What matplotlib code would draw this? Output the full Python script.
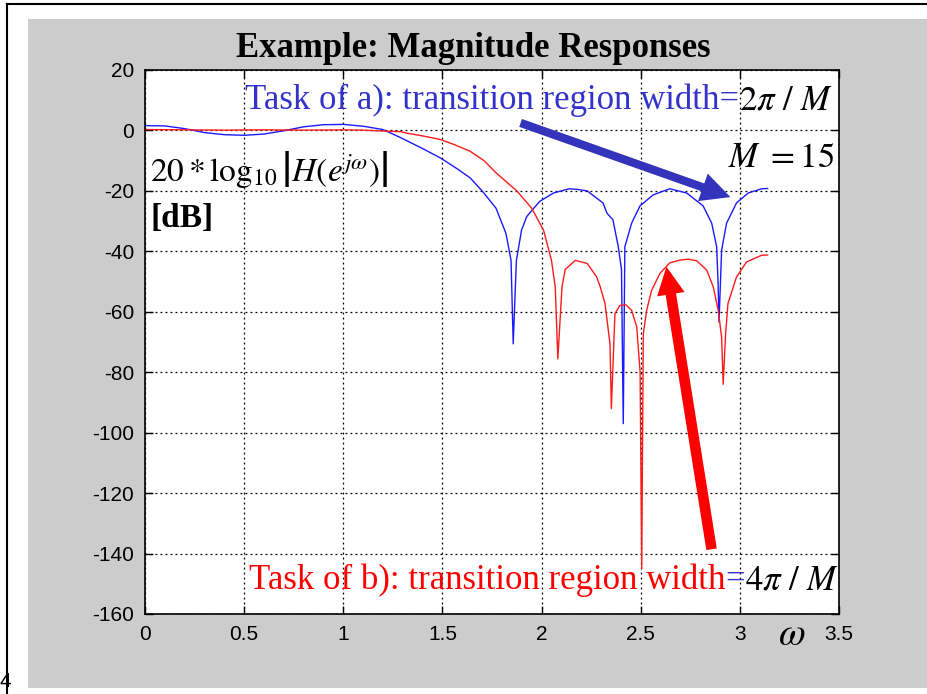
import matplotlib
matplotlib.use('Agg')
import matplotlib.pyplot as plt
from matplotlib.patches import Rectangle
from matplotlib.lines import Line2D

plt.rcParams['mathtext.fontset'] = 'stix'
plt.rcParams['axes.unicode_minus'] = False

W, H = 928, 694

# blue response (task a)
w_a = [0.00, 0.10, 0.20, 0.30, 0.40, 0.50, 0.60, 0.70, 0.80, 0.90, 1.00, 1.10, 1.20,
       1.29, 1.40, 1.49, 1.57, 1.64, 1.70, 1.77, 1.82, 1.846, 1.857, 1.873, 1.899,
       1.925, 1.99, 2.06, 2.14, 2.18, 2.23, 2.31, 2.33, 2.36, 2.387, 2.403, 2.412,
       2.42, 2.454, 2.496, 2.563, 2.647, 2.732, 2.815, 2.858, 2.883, 2.89, 2.895,
       2.908, 2.933, 2.983, 3.042, 3.11, 3.14]
db_a = [1.6, 1.5, 0.6, -0.7, -1.4, -1.6, -1.2, -0.1, 1.2, 1.9, 2.0, 1.4, 0.3,
        -2.4, -6.0, -9.1, -12.5, -15.7, -20.0, -25.7, -34.0, -43.0, -70.6, -43.0, -33.0,
        -28.5, -23.5, -20.7, -19.3, -19.5, -20.0, -24.0, -27.4, -29.6, -38.5, -46.0, -97.0,
        -38.5, -30.7, -25.0, -21.3, -19.3, -20.7, -25.0, -30.7, -38.5, -50.0, -63.4,
        -39.6, -30.7, -24.0, -20.7, -19.3, -19.2]

# red response (task b)
w_b = [0.00, 0.20, 0.40, 0.60, 0.80, 1.00, 1.10, 1.20, 1.29, 1.32, 1.40, 1.49, 1.56,
       1.64, 1.71, 1.77, 1.875, 1.95, 2.01, 2.05, 2.069, 2.082, 2.103, 2.119, 2.17,
       2.23, 2.278, 2.296, 2.32, 2.345, 2.352, 2.37, 2.395, 2.425, 2.454, 2.48, 2.497,
       2.505, 2.513, 2.53, 2.555, 2.597, 2.647, 2.698, 2.74, 2.782, 2.833, 2.866,
       2.891, 2.908, 2.916, 2.928, 2.94, 2.983, 3.034, 3.11, 3.14]
db_b = [0.3, 0.2, 0.1, 0.2, 0.1, 0.2, 0.1, -0.2, -0.4, -0.9, -1.8, -3.0, -4.7,
        -6.9, -10.0, -14.0, -20.0, -25.7, -33.0, -43.0, -51.8, -75.6, -51.8, -46.0, -43.0,
        -44.0, -48.5, -51.8, -57.3, -70.6, -92.0, -60.6, -57.9, -57.7, -59.5, -65.0, -80.0,
        -145.0, -67.3, -59.5, -52.9, -47.3, -43.8, -42.9, -42.6, -43.1, -46.2, -51.8,
        -59.5, -68.4, -84.0, -67.3, -57.3, -48.5, -43.5, -41.3, -41.2]

xticks = [0, 0.5, 1, 1.5, 2, 2.5, 3, 3.5]
xticklabels = ['0', '0.5', '1', '1.5', '2', '2.5', '3', '3.5']
yticks = list(range(-160, 21, 20))


def px(x, y):
    return x / W, 1 - y / H


fig = plt.figure(figsize=(W / 100, H / 100), dpi=100)
fig.patch.set_facecolor('white')

# slide frame and grey panel
fig.patches.append(Rectangle(px(28, 688), 900 / W, 669 / H, transform=fig.transFigure,
                             facecolor='#cccccc', edgecolor='none', zorder=-10))
fig.lines.append(Line2D([7 / W, 1], [1 - 4 / H, 1 - 4 / H], transform=fig.transFigure,
                        color='black', lw=1.5, zorder=-5))
fig.lines.append(Line2D([7 / W, 7 / W], [0, 1 - 4 / H], transform=fig.transFigure,
                        color='black', lw=1.5, zorder=-5))
fig.text(*px(0, 687), '4', fontsize=15, ha='left', va='baseline', family='Liberation Sans')

l, b = px(145, 614)
ax = fig.add_axes([l, b, 694 / W, 544 / H], zorder=1)
ax.set_facecolor('white')
ax.plot(w_a, db_a, color='#1a1aff', lw=1.0)
ax.plot(w_b, db_b, color='#ff1a1a', lw=1.0)
ax.set_xlim(0, 3.5)
ax.set_ylim(-160, 20)
ax.set_xticks(xticks)
ax.set_xticklabels(xticklabels)
ax.set_yticks(yticks)
ax.grid(True, color='black', linestyle=(0, (1.5, 2.5)), lw=0.9)
ax.tick_params(direction='in', top=True, right=True, length=6, width=1, pad=8)
for lab in ax.get_xticklabels() + ax.get_yticklabels():
    lab.set_family('Liberation Sans')
    lab.set_fontsize(15)
for s in ax.spines.values():
    s.set_linewidth(1.2)

serif = 'Liberation Serif'
fig.text(*px(473, 57), 'Example: Magnitude Responses', fontsize=25, fontweight='bold',
         family=serif, ha='center', va='baseline', zorder=2)

renderer = fig.canvas.get_renderer()


def text_row(x0, y0, parts, size):
    x = x0
    for s, c in parts:
        t = fig.text(*px(x, y0), s, fontsize=size, color=c, family=serif,
                     ha='left', va='baseline', zorder=3)
        bb = t.get_window_extent(renderer)
        x += bb.width


text_row(245, 109, [('Task of a): transition region width=', '#3333cc'),
                    (r'$2\pi\ /\ M$', 'black')], 25)
text_row(249, 589, [('Task of b): transition region width', '#ff0000'),
                    ('=', '#3333cc'),
                    (r'$4\pi\ /\ M$', 'black')], 25)

fig.text(*px(728, 167), r'$M\ = 15$', fontsize=25, family=serif, ha='left', va='baseline',
         zorder=3)
fig.text(*px(150, 181), r'$20*\log_{10}\left|H\left(e^{j\omega}\right)\right|$',
         fontsize=24, ha='left', va='baseline', zorder=3)
fig.text(*px(151, 227), '[dB]', fontsize=24, fontweight='bold', family=serif,
         ha='left', va='baseline', zorder=3)
fig.text(*px(792, 645), r'$\omega$', fontsize=28, ha='center', va='baseline', zorder=3)

# arrows (pixel positions converted to data)
def to_data(x, y):
    return (x - 145) / 694 * 3.5, 20 - (y - 70) / 544 * 180


ax.annotate('', xy=to_data(733, 198), xytext=to_data(518, 122),
            arrowprops=dict(arrowstyle='simple,head_length=1.05,head_width=1.05,tail_width=0.3',
                            color='#3333bb', lw=0, mutation_scale=20),
            annotation_clip=False)
ax.annotate('', xy=to_data(666, 264), xytext=to_data(712, 552),
            arrowprops=dict(arrowstyle='simple,head_length=1.0,head_width=1.0,tail_width=0.38',
                            color='#ff0000', lw=0, mutation_scale=20),
            annotation_clip=False)

fig.savefig('out.png', dpi=100)
